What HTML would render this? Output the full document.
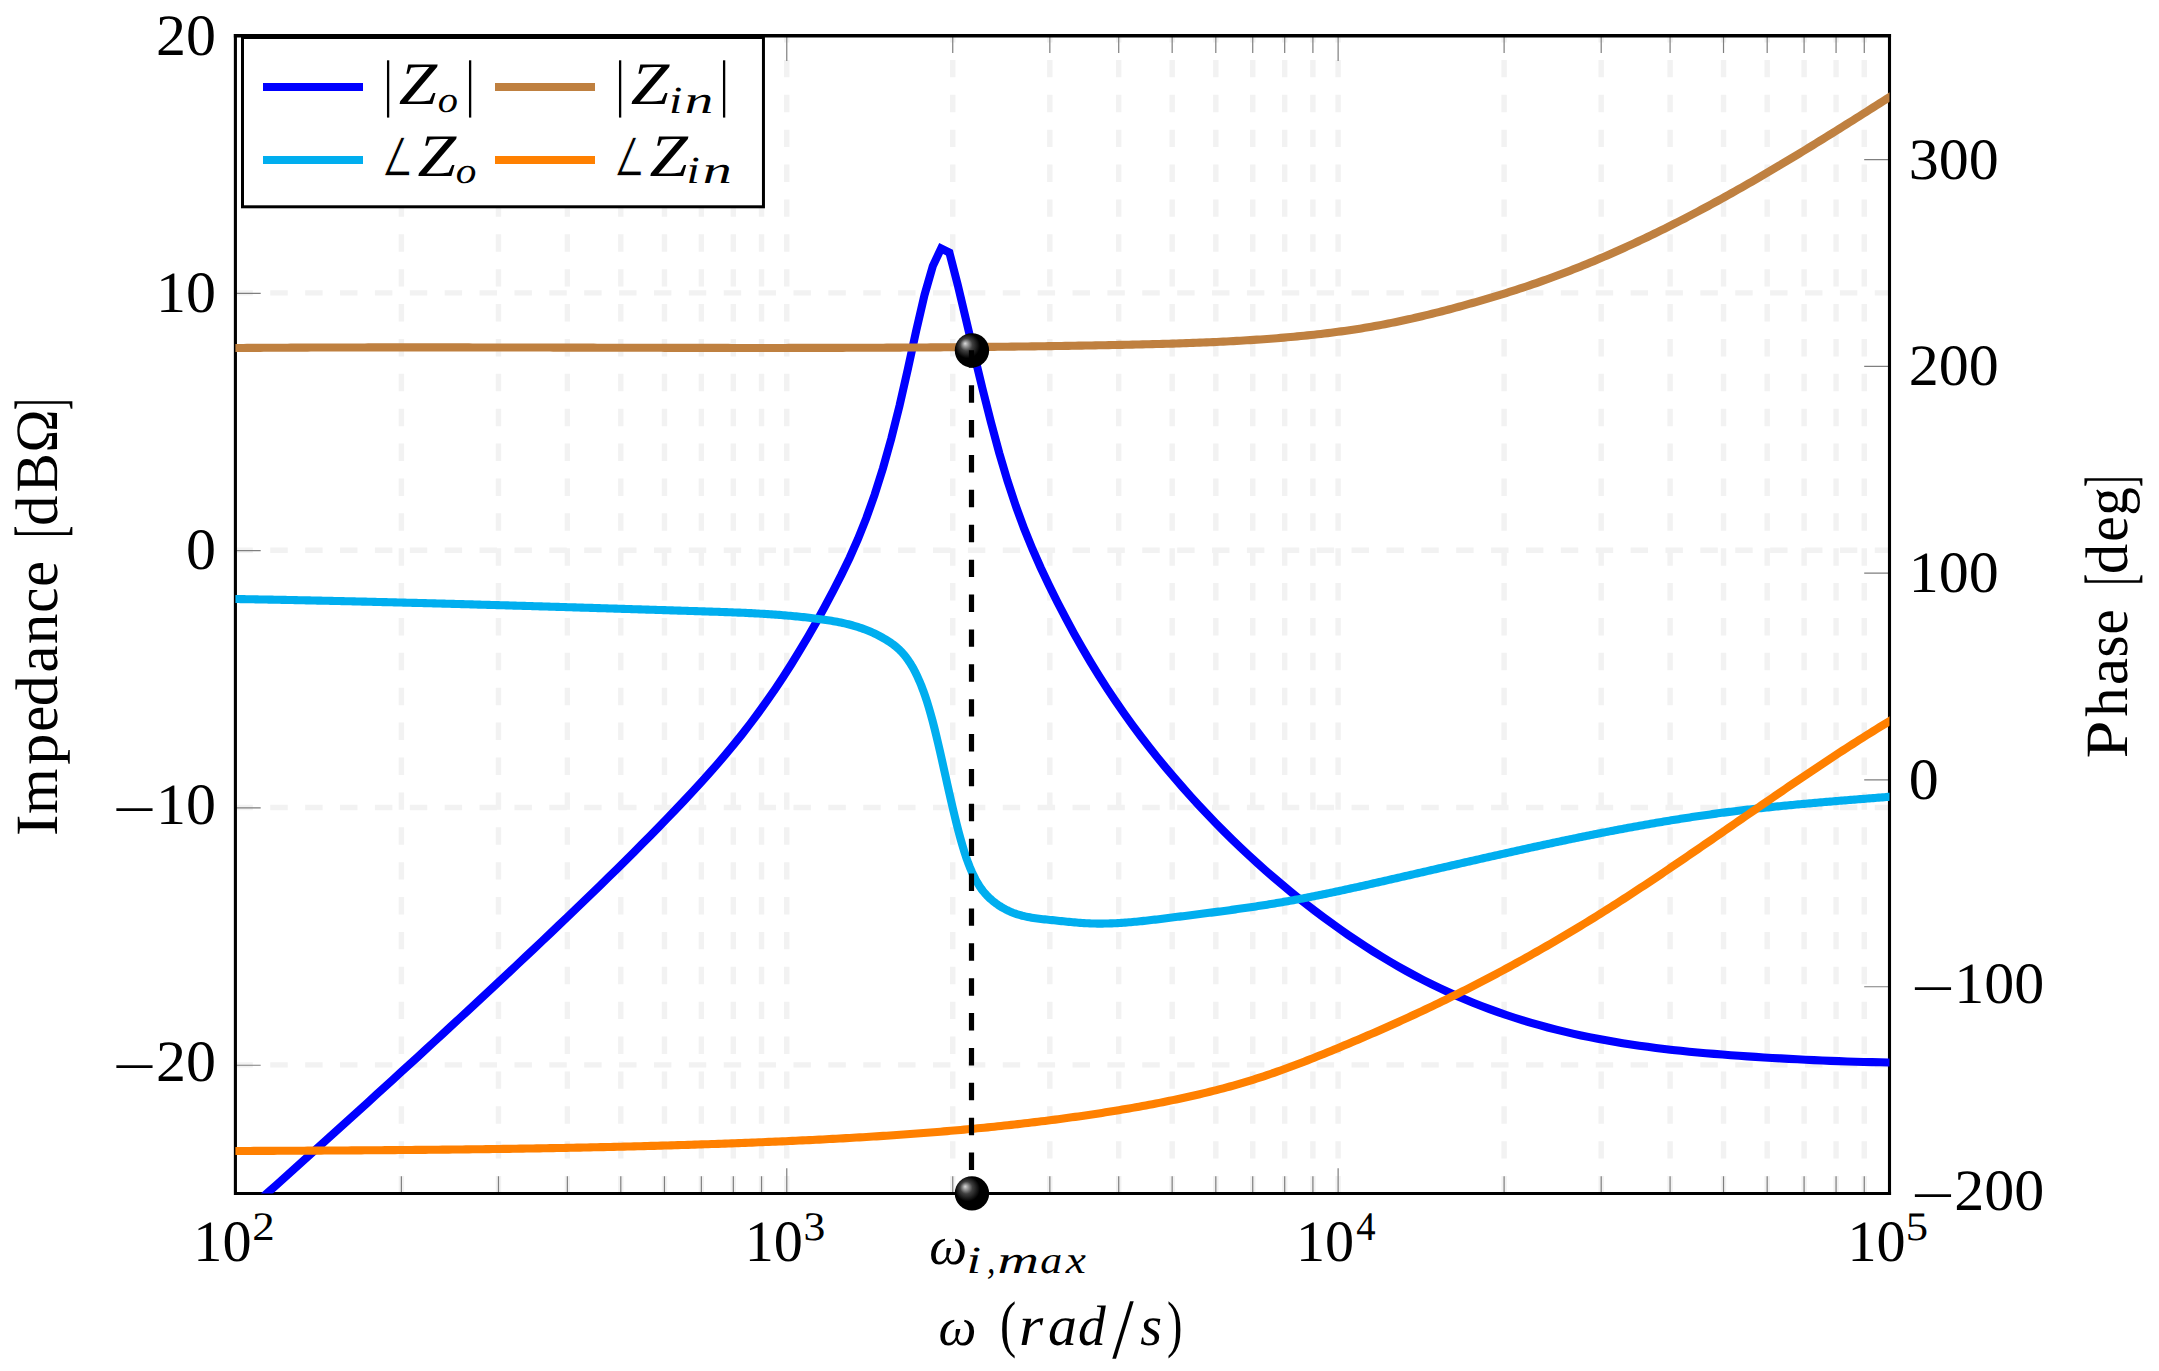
<!DOCTYPE html>
<html lang="en"><head><meta charset="utf-8"><title>Impedance and phase plot</title>
<style>html,body{margin:0;padding:0;background:#fff;overflow:hidden}svg{display:block}</style></head>
<body>
<svg width="2159" height="1371" viewBox="0 0 2159 1371" style="display:block;font-kerning:none;font-variant-ligatures:none" text-rendering="geometricPrecision">
<defs>
<clipPath id="cp"><rect x="235.4" y="35.6" width="1654.10" height="1157.90"/></clipPath>
<radialGradient id="ball" gradientUnits="objectBoundingBox" cx="0.5" cy="0.5" r="1.0" fx="0.3" fy="0.3"><stop offset="0" stop-color="#d9d9d9"/><stop offset="0.18" stop-color="#404040"/><stop offset="0.36" stop-color="#000"/><stop offset="1" stop-color="#000"/></radialGradient>
</defs>
<rect width="2159" height="1371" fill="#fff"/>
<path d="M401.38 1193.50V35.60M498.47 1193.50V35.60M567.36 1193.50V35.60M620.79 1193.50V35.60M664.45 1193.50V35.60M701.36 1193.50V35.60M733.33 1193.50V35.60M761.54 1193.50V35.60M786.77 1193.50V35.60M952.74 1193.50V35.60M1049.84 1193.50V35.60M1118.72 1193.50V35.60M1172.16 1193.50V35.60M1215.81 1193.50V35.60M1252.73 1193.50V35.60M1284.70 1193.50V35.60M1312.90 1193.50V35.60M1338.13 1193.50V35.60M1504.11 1193.50V35.60M1601.20 1193.50V35.60M1670.09 1193.50V35.60M1723.52 1193.50V35.60M1767.18 1193.50V35.60M1804.09 1193.50V35.60M1836.07 1193.50V35.60M1864.27 1193.50V35.60M235.40 292.91H1889.50M235.40 550.22H1889.50M235.40 807.53H1889.50M235.40 1064.84H1889.50" fill="none" stroke="#f2f2f2" stroke-width="5.4" stroke-dasharray="17.44 17.44"/>
<path d="M401.38 1193.50v-17.30M401.38 35.60v17.30M498.47 1193.50v-17.30M498.47 35.60v17.30M567.36 1193.50v-17.30M567.36 35.60v17.30M620.79 1193.50v-17.30M620.79 35.60v17.30M664.45 1193.50v-17.30M664.45 35.60v17.30M701.36 1193.50v-17.30M701.36 35.60v17.30M733.33 1193.50v-17.30M733.33 35.60v17.30M761.54 1193.50v-17.30M761.54 35.60v17.30M786.77 1193.50v-25.30M786.77 35.60v25.30M952.74 1193.50v-17.30M952.74 35.60v17.30M1049.84 1193.50v-17.30M1049.84 35.60v17.30M1118.72 1193.50v-17.30M1118.72 35.60v17.30M1172.16 1193.50v-17.30M1172.16 35.60v17.30M1215.81 1193.50v-17.30M1215.81 35.60v17.30M1252.73 1193.50v-17.30M1252.73 35.60v17.30M1284.70 1193.50v-17.30M1284.70 35.60v17.30M1312.90 1193.50v-17.30M1312.90 35.60v17.30M1338.13 1193.50v-25.30M1338.13 35.60v25.30M1504.11 1193.50v-17.30M1504.11 35.60v17.30M1601.20 1193.50v-17.30M1601.20 35.60v17.30M1670.09 1193.50v-17.30M1670.09 35.60v17.30M1723.52 1193.50v-17.30M1723.52 35.60v17.30M1767.18 1193.50v-17.30M1767.18 35.60v17.30M1804.09 1193.50v-17.30M1804.09 35.60v17.30M1836.07 1193.50v-17.30M1836.07 35.60v17.30M1864.27 1193.50v-17.30M1864.27 35.60v17.30M235.40 293.31h25.30M235.40 550.62h25.30M235.40 807.93h25.30M235.40 1065.24h25.30M1889.50 159.66h-25.30M1889.50 366.43h-25.30M1889.50 573.20h-25.30M1889.50 779.96h-25.30M1889.50 986.73h-25.30" fill="none" stroke="#7f7f7f" stroke-width="1.2"/>
<path d="M235.40 1195.05V34.05M233.85 1193.50H1891.05" fill="none" stroke="#000" stroke-width="3.1"/>
<path d="M233.85 35.75H1891.05" fill="none" stroke="#000" stroke-width="3.6"/>
<path d="M1889.50 1195.05V34.05" fill="none" stroke="#000" stroke-width="3.1"/>
<g clip-path="url(#cp)" fill="none" stroke-linejoin="miter" stroke-miterlimit="10">
<path d="M226.26 1229.92L234.57 1222.47L242.89 1215.01L251.20 1207.55L259.51 1200.08L267.82 1192.62L276.14 1185.15L284.45 1177.68L292.76 1170.20L301.07 1162.72L309.38 1155.23L317.70 1147.74L326.01 1140.24L334.32 1132.73L342.63 1125.22L350.94 1117.70L359.26 1110.17L367.57 1102.63L375.88 1095.08L384.19 1087.51L392.50 1079.94L400.82 1072.36L409.13 1064.76L417.44 1057.15L425.75 1049.53L434.06 1041.89L442.38 1034.24L450.69 1026.57L459.00 1018.89L467.31 1011.19L475.62 1003.48L483.94 995.75L492.25 988.00L500.56 980.23L508.87 972.44L517.18 964.63L525.50 956.80L533.81 948.96L542.12 941.09L550.43 933.19L558.75 925.28L567.06 917.34L575.37 909.38L583.68 901.39L591.99 893.37L600.31 885.30L608.62 877.20L616.93 869.04L625.24 860.83L633.55 852.55L641.87 844.22L650.18 835.81L658.49 827.33L666.80 818.76L675.11 810.11L683.43 801.37L691.74 792.51L700.05 783.49L708.36 774.29L716.67 764.86L724.99 755.16L733.30 745.17L741.61 734.84L749.92 724.14L758.23 713.03L766.55 701.47L774.86 689.45L783.17 676.96L791.48 663.97L799.79 650.47L808.11 636.46L816.42 621.91L824.73 606.81L833.04 591.14L841.36 574.88L849.67 557.68L857.98 538.96L866.29 518.17L874.60 494.78L882.92 468.41L891.23 438.74L899.54 405.65L907.85 369.07L916.16 330.81L924.48 295.05L932.79 266.14L941.10 248.43L949.40 252.62L957.71 284.85L966.02 319.60L974.34 354.96L982.65 389.41L990.96 422.28L999.27 453.03L1007.58 481.12L1015.90 506.27L1024.21 528.83L1032.52 549.26L1040.83 568.01L1049.14 585.54L1057.46 602.24L1065.77 618.24L1074.08 633.58L1082.39 648.27L1090.71 662.36L1099.02 675.87L1107.33 688.85L1115.64 701.32L1123.95 713.31L1132.27 724.87L1140.58 736.01L1148.89 746.78L1157.20 757.21L1165.51 767.33L1173.83 777.16L1182.14 786.75L1190.45 796.09L1198.76 805.20L1207.07 814.07L1215.39 822.71L1223.70 831.14L1232.01 839.35L1240.32 847.35L1248.63 855.16L1256.95 862.76L1265.26 870.18L1273.57 877.41L1281.88 884.46L1290.19 891.34L1298.51 898.05L1306.82 904.60L1315.13 911.00L1323.44 917.25L1331.75 923.34L1340.07 929.28L1348.38 935.06L1356.69 940.69L1365.00 946.16L1373.32 951.47L1381.63 956.62L1389.94 961.61L1398.25 966.45L1406.56 971.12L1414.88 975.62L1423.19 979.97L1431.50 984.15L1439.81 988.17L1448.12 992.04L1456.44 995.75L1464.75 999.32L1473.06 1002.73L1481.37 1006.01L1489.68 1009.15L1498.00 1012.15L1506.31 1015.01L1514.62 1017.75L1522.93 1020.36L1531.24 1022.85L1539.56 1025.22L1547.87 1027.48L1556.18 1029.62L1564.49 1031.65L1572.80 1033.59L1581.12 1035.42L1589.43 1037.15L1597.74 1038.79L1606.05 1040.34L1614.36 1041.80L1622.68 1043.18L1630.99 1044.48L1639.30 1045.70L1647.61 1046.86L1655.93 1047.94L1664.24 1048.96L1672.55 1049.92L1680.86 1050.82L1689.17 1051.66L1697.49 1052.46L1705.80 1053.20L1714.11 1053.91L1722.42 1054.57L1730.73 1055.20L1739.05 1055.80L1747.36 1056.36L1755.67 1056.90L1763.98 1057.42L1772.29 1057.92L1780.61 1058.40L1788.92 1058.87L1797.23 1059.31L1805.54 1059.73L1813.85 1060.13L1822.17 1060.50L1830.48 1060.84L1838.79 1061.16L1847.10 1061.45L1855.41 1061.71L1863.73 1061.94L1872.04 1062.14L1880.35 1062.30L1888.66 1062.43L1896.97 1062.52" stroke="#0000ff" stroke-width="8.1"/>
<path d="M220.00 348.13L223.37 348.10L226.73 348.07L230.10 348.05L233.47 348.02L236.83 347.99L240.20 347.97L243.57 347.94L246.93 347.92L250.30 347.90L253.67 347.87L257.03 347.85L260.40 347.83L263.77 347.81L267.13 347.79L270.50 347.77L273.87 347.75L277.23 347.73L280.60 347.71L283.97 347.69L287.33 347.68L290.70 347.66L294.07 347.65L297.43 347.63L300.80 347.62L304.17 347.60L307.54 347.59L310.90 347.57L314.27 347.56L317.64 347.55L321.00 347.54L324.37 347.53L327.74 347.52L331.10 347.51L334.47 347.50L337.84 347.49L341.20 347.48L344.57 347.47L347.94 347.46L351.30 347.45L354.67 347.45L358.04 347.44L361.40 347.43L364.77 347.43L368.14 347.42L371.50 347.42L374.87 347.41L378.24 347.41L381.60 347.40L384.97 347.40L388.34 347.40L391.70 347.40L395.07 347.39L398.44 347.39L401.80 347.39L405.17 347.39L408.54 347.39L411.90 347.39L415.27 347.39L418.64 347.39L422.00 347.39L425.37 347.39L428.74 347.39L432.10 347.39L435.47 347.39L438.84 347.39L442.20 347.40L445.57 347.40L448.94 347.40L452.30 347.40L455.67 347.41L459.04 347.41L462.40 347.41L465.77 347.42L469.14 347.42L472.51 347.43L475.87 347.43L479.24 347.43L482.61 347.44L485.97 347.44L489.34 347.45L492.71 347.46L496.07 347.46L499.44 347.47L502.81 347.47L506.17 347.48L509.54 347.49L512.91 347.49L516.27 347.50L519.64 347.50L523.01 347.51L526.37 347.52L529.74 347.53L533.11 347.53L536.47 347.54L539.84 347.55L543.21 347.55L546.57 347.56L549.94 347.57L553.31 347.58L556.67 347.59L560.04 347.59L563.41 347.60L566.77 347.61L570.14 347.62L573.51 347.62L576.87 347.63L580.24 347.64L583.61 347.65L586.97 347.66L590.34 347.67L593.71 347.67L597.07 347.68L600.44 347.69L603.81 347.70L607.17 347.71L610.54 347.71L613.91 347.72L617.27 347.73L620.64 347.74L624.01 347.74L627.37 347.75L630.74 347.76L634.11 347.77L637.47 347.77L640.84 347.78L644.21 347.79L647.58 347.80L650.94 347.80L654.31 347.81L657.68 347.82L661.04 347.82L664.41 347.83L667.78 347.84L671.14 347.84L674.51 347.85L677.88 347.86L681.24 347.86L684.61 347.87L687.98 347.87L691.34 347.88L694.71 347.88L698.08 347.89L701.44 347.89L704.81 347.90L708.18 347.90L711.54 347.91L714.91 347.91L718.28 347.91L721.64 347.92L725.01 347.92L728.38 347.92L731.74 347.93L735.11 347.93L738.48 347.93L741.84 347.93L745.21 347.93L748.58 347.93L751.94 347.94L755.31 347.94L758.68 347.94L762.04 347.94L765.41 347.94L768.78 347.94L772.14 347.93L775.51 347.93L778.88 347.93L782.24 347.93L785.61 347.93L788.98 347.92L792.34 347.92L795.71 347.92L799.08 347.91L802.44 347.91L805.81 347.91L809.18 347.90L812.55 347.90L815.91 347.89L819.28 347.88L822.65 347.88L826.01 347.87L829.38 347.86L832.75 347.85L836.11 347.85L839.48 347.84L842.85 347.83L846.21 347.82L849.58 347.81L852.95 347.80L856.31 347.79L859.68 347.77L863.05 347.76L866.41 347.75L869.78 347.74L873.15 347.72L876.51 347.71L879.88 347.69L883.25 347.68L886.61 347.66L889.98 347.65L893.35 347.63L896.71 347.61L900.08 347.59L903.45 347.57L906.81 347.56L910.18 347.54L913.55 347.52L916.91 347.49L920.28 347.47L923.65 347.45L927.01 347.43L930.38 347.40L933.75 347.38L937.11 347.36L940.48 347.33L943.85 347.30L947.21 347.28L950.58 347.25L953.95 347.22L957.31 347.19L960.68 347.17L964.05 347.14L967.41 347.10L970.78 347.07L974.15 347.04L977.52 347.01L980.88 346.98L984.25 346.94L987.62 346.91L990.98 346.87L994.35 346.83L997.72 346.80L1001.08 346.76L1004.45 346.72L1007.82 346.68L1011.18 346.64L1014.55 346.60L1017.92 346.56L1021.28 346.52L1024.65 346.47L1028.02 346.43L1031.38 346.38L1034.75 346.34L1038.12 346.29L1041.48 346.24L1044.85 346.20L1048.22 346.15L1051.58 346.10L1054.95 346.05L1058.32 345.99L1061.68 345.94L1065.05 345.89L1068.42 345.84L1071.78 345.78L1075.15 345.72L1078.52 345.67L1081.88 345.61L1085.25 345.55L1088.62 345.49L1091.98 345.43L1095.35 345.37L1098.72 345.31L1102.08 345.24L1105.45 345.18L1108.82 345.12L1112.18 345.05L1115.55 344.98L1118.92 344.91L1122.28 344.84L1125.65 344.77L1129.02 344.70L1132.38 344.63L1135.75 344.56L1139.12 344.48L1142.48 344.40L1145.85 344.32L1149.22 344.24L1152.59 344.16L1155.95 344.07L1159.32 343.98L1162.69 343.89L1166.05 343.79L1169.42 343.70L1172.79 343.60L1176.15 343.49L1179.52 343.39L1182.89 343.27L1186.25 343.16L1189.62 343.04L1192.99 342.92L1196.35 342.79L1199.72 342.66L1203.09 342.53L1206.45 342.39L1209.82 342.24L1213.19 342.10L1216.55 341.94L1219.92 341.78L1223.29 341.62L1226.65 341.45L1230.02 341.27L1233.39 341.09L1236.75 340.91L1240.12 340.72L1243.49 340.52L1246.85 340.31L1250.22 340.10L1253.59 339.88L1256.95 339.66L1260.32 339.43L1263.69 339.19L1267.05 338.95L1270.42 338.70L1273.79 338.44L1277.15 338.17L1280.52 337.90L1283.89 337.61L1287.25 337.32L1290.62 337.03L1293.99 336.72L1297.35 336.40L1300.72 336.08L1304.09 335.75L1307.45 335.40L1310.82 335.05L1314.19 334.69L1317.56 334.31L1320.92 333.93L1324.29 333.53L1327.66 333.13L1331.02 332.71L1334.39 332.28L1337.76 331.84L1341.12 331.38L1344.49 330.92L1347.86 330.44L1351.22 329.95L1354.59 329.44L1357.96 328.92L1361.32 328.38L1364.69 327.84L1368.06 327.27L1371.42 326.70L1374.79 326.10L1378.16 325.49L1381.52 324.87L1384.89 324.23L1388.26 323.57L1391.62 322.90L1394.99 322.22L1398.36 321.52L1401.72 320.80L1405.09 320.07L1408.46 319.33L1411.82 318.58L1415.19 317.81L1418.56 317.03L1421.92 316.23L1425.29 315.43L1428.66 314.61L1432.02 313.78L1435.39 312.94L1438.76 312.08L1442.12 311.22L1445.49 310.35L1448.86 309.46L1452.22 308.57L1455.59 307.66L1458.96 306.75L1462.32 305.83L1465.69 304.90L1469.06 303.96L1472.42 303.01L1475.79 302.05L1479.16 301.09L1482.53 300.11L1485.89 299.13L1489.26 298.13L1492.63 297.13L1495.99 296.12L1499.36 295.09L1502.73 294.06L1506.09 293.01L1509.46 291.95L1512.83 290.88L1516.19 289.80L1519.56 288.71L1522.93 287.60L1526.29 286.48L1529.66 285.35L1533.03 284.21L1536.39 283.05L1539.76 281.88L1543.13 280.69L1546.49 279.49L1549.86 278.27L1553.23 277.04L1556.59 275.80L1559.96 274.54L1563.33 273.26L1566.69 271.97L1570.06 270.67L1573.43 269.35L1576.79 268.02L1580.16 266.68L1583.53 265.32L1586.89 263.94L1590.26 262.56L1593.63 261.16L1596.99 259.74L1600.36 258.32L1603.73 256.88L1607.09 255.42L1610.46 253.96L1613.83 252.48L1617.19 250.98L1620.56 249.48L1623.93 247.96L1627.29 246.43L1630.66 244.88L1634.03 243.33L1637.39 241.76L1640.76 240.18L1644.13 238.58L1647.49 236.98L1650.86 235.36L1654.23 233.73L1657.60 232.09L1660.96 230.43L1664.33 228.77L1667.70 227.09L1671.06 225.40L1674.43 223.70L1677.80 221.99L1681.16 220.26L1684.53 218.53L1687.90 216.78L1691.26 215.03L1694.63 213.26L1698.00 211.48L1701.36 209.69L1704.73 207.89L1708.10 206.08L1711.46 204.26L1714.83 202.43L1718.20 200.59L1721.56 198.74L1724.93 196.88L1728.30 195.01L1731.66 193.12L1735.03 191.23L1738.40 189.33L1741.76 187.42L1745.13 185.50L1748.50 183.57L1751.86 181.64L1755.23 179.69L1758.60 177.74L1761.96 175.77L1765.33 173.80L1768.70 171.83L1772.06 169.84L1775.43 167.85L1778.80 165.84L1782.16 163.84L1785.53 161.82L1788.90 159.80L1792.26 157.77L1795.63 155.73L1799.00 153.69L1802.36 151.64L1805.73 149.59L1809.10 147.53L1812.46 145.47L1815.83 143.40L1819.20 141.32L1822.57 139.24L1825.93 137.15L1829.30 135.06L1832.67 132.97L1836.03 130.87L1839.40 128.76L1842.77 126.65L1846.13 124.54L1849.50 122.43L1852.87 120.31L1856.23 118.18L1859.60 116.06L1862.97 113.93L1866.33 111.80L1869.70 109.66L1873.07 107.53L1876.43 105.39L1879.80 103.24L1883.17 101.10L1886.53 98.96L1889.90 96.81L1893.27 94.66L1896.63 92.51L1900.00 90.36" stroke="#bf8040" stroke-width="8.1"/>
</g>
<g clip-path="url(#cp)" fill="none" stroke-linejoin="round">
<path d="M220.00 598.76L221.87 598.79L223.74 598.82L225.61 598.85L227.48 598.88L229.35 598.91L231.22 598.94L233.09 598.97L234.96 599.00L236.83 599.03L238.70 599.06L240.57 599.10L242.44 599.13L244.31 599.16L246.18 599.19L248.05 599.23L249.92 599.26L251.79 599.29L253.66 599.32L255.53 599.36L257.40 599.39L259.27 599.43L261.14 599.46L263.01 599.49L264.88 599.53L266.75 599.56L268.62 599.60L270.49 599.63L272.36 599.67L274.23 599.71L276.10 599.74L277.97 599.78L279.84 599.81L281.71 599.85L283.58 599.89L285.45 599.92L287.32 599.96L289.19 600.00L291.06 600.03L292.93 600.07L294.80 600.11L296.67 600.15L298.54 600.19L300.41 600.22L302.28 600.26L304.15 600.30L306.02 600.34L307.89 600.38L309.76 600.42L311.63 600.46L313.50 600.50L315.37 600.54L317.24 600.58L319.11 600.62L320.98 600.66L322.85 600.70L324.72 600.74L326.59 600.78L328.46 600.82L330.33 600.86L332.20 600.90L334.07 600.94L335.94 600.98L337.81 601.03L339.68 601.07L341.56 601.11L343.43 601.15L345.30 601.19L347.17 601.24L349.04 601.28L350.91 601.32L352.78 601.37L354.65 601.41L356.52 601.45L358.39 601.50L360.26 601.54L362.13 601.58L364.00 601.63L365.87 601.67L367.74 601.72L369.61 601.76L371.48 601.81L373.35 601.85L375.22 601.90L377.09 601.94L378.96 601.99L380.83 602.03L382.70 602.08L384.57 602.12L386.44 602.17L388.31 602.21L390.18 602.26L392.05 602.31L393.92 602.35L395.79 602.40L397.66 602.45L399.53 602.49L401.40 602.54L403.27 602.59L405.14 602.63L407.01 602.68L408.88 602.73L410.75 602.78L412.62 602.83L414.49 602.87L416.36 602.92L418.23 602.97L420.10 603.02L421.97 603.07L423.84 603.11L425.71 603.16L427.58 603.21L429.45 603.26L431.32 603.31L433.19 603.36L435.06 603.41L436.93 603.46L438.80 603.51L440.67 603.56L442.54 603.61L444.41 603.66L446.28 603.71L448.15 603.76L450.02 603.81L451.89 603.86L453.76 603.91L455.63 603.96L457.50 604.01L459.37 604.06L461.24 604.11L463.11 604.16L464.98 604.22L466.85 604.27L468.72 604.32L470.59 604.37L472.46 604.42L474.33 604.47L476.20 604.53L478.07 604.58L479.94 604.63L481.81 604.68L483.68 604.73L485.55 604.79L487.42 604.84L489.29 604.89L491.16 604.94L493.03 605.00L494.90 605.05L496.77 605.10L498.64 605.16L500.51 605.21L502.38 605.26L504.25 605.32L506.12 605.37L507.99 605.42L509.86 605.48L511.73 605.53L513.60 605.59L515.47 605.64L517.34 605.69L519.21 605.75L521.08 605.80L522.95 605.86L524.82 605.91L526.69 605.96L528.56 606.02L530.43 606.07L532.30 606.13L534.17 606.18L536.04 606.24L537.91 606.29L539.78 606.35L541.65 606.40L543.52 606.46L545.39 606.51L547.26 606.57L549.13 606.63L551.00 606.68L552.87 606.74L554.74 606.79L556.61 606.85L558.48 606.90L560.35 606.96L562.22 607.02L564.09 607.07L565.96 607.13L567.83 607.18L569.70 607.24L571.57 607.30L573.44 607.35L575.31 607.41L577.18 607.47L579.05 607.52L580.93 607.58L582.80 607.63L584.67 607.69L586.54 607.75L588.41 607.81L590.28 607.86L592.15 607.92L594.02 607.98L595.89 608.03L597.76 608.09L599.63 608.15L601.50 608.20L603.37 608.26L605.24 608.32L607.11 608.38L608.98 608.43L610.85 608.49L612.72 608.55L614.59 608.61L616.46 608.66L618.33 608.72L620.20 608.78L622.07 608.84L623.94 608.89L625.81 608.95L627.68 609.01L629.55 609.07L631.42 609.13L633.29 609.18L635.16 609.24L637.03 609.30L638.90 609.36L640.77 609.42L642.64 609.47L644.51 609.53L646.38 609.59L648.25 609.65L650.12 609.71L651.99 609.76L653.86 609.82L655.73 609.88L657.60 609.94L659.47 610.00L661.34 610.06L663.21 610.11L665.08 610.17L666.95 610.23L668.82 610.29L670.69 610.35L672.56 610.41L674.43 610.47L676.30 610.52L678.17 610.58L680.04 610.64L681.91 610.70L683.78 610.76L685.65 610.82L687.52 610.88L689.39 610.93L691.26 610.99L693.13 611.05L695.00 611.11L696.87 611.17L698.74 611.23L700.61 611.29L702.48 611.35L704.35 611.40L706.22 611.46L708.09 611.52L709.96 611.58L711.83 611.64L713.70 611.70L715.57 611.76L717.44 611.82L719.31 611.89L721.18 611.95L723.05 612.02L724.92 612.08L726.79 612.15L728.66 612.22L730.53 612.29L732.40 612.36L734.27 612.43L736.14 612.51L738.01 612.58L739.88 612.66L741.75 612.74L743.62 612.82L745.49 612.91L747.36 612.99L749.23 613.08L751.10 613.17L752.97 613.27L754.84 613.36L756.71 613.46L758.58 613.57L760.45 613.67L762.32 613.78L764.19 613.89L766.06 614.01L767.93 614.12L769.80 614.25L771.67 614.37L773.54 614.50L775.41 614.63L777.28 614.77L779.15 614.91L781.02 615.05L782.89 615.20L784.76 615.35L786.63 615.51L788.50 615.67L790.37 615.83L792.24 616.00L794.11 616.18L795.98 616.36L797.85 616.54L799.72 616.73L801.59 616.93L803.46 617.13L805.33 617.33L807.20 617.54L809.07 617.76L810.94 617.98L812.81 618.20L814.68 618.44L816.55 618.67L818.42 618.92L820.29 619.17L822.17 619.42L824.04 619.69L825.91 619.96L827.78 620.24L829.65 620.53L831.52 620.84L833.39 621.16L835.26 621.49L837.13 621.83L839.00 622.19L840.87 622.57L842.74 622.97L844.61 623.38L846.48 623.82L848.35 624.28L850.22 624.76L852.09 625.26L853.96 625.79L855.83 626.34L857.70 626.92L859.57 627.53L861.44 628.17L863.31 628.83L865.18 629.53L867.05 630.26L868.92 631.02L870.79 631.82L872.66 632.66L874.53 633.52L876.40 634.43L878.27 635.38L880.14 636.36L882.01 637.39L883.88 638.46L885.75 639.57L887.62 640.72L889.49 641.92L891.36 643.19L893.23 644.54L895.10 645.98L896.97 647.53L898.84 649.21L900.71 651.04L902.58 653.03L904.45 655.20L906.32 657.57L908.19 660.15L910.06 662.96L911.93 666.02L913.80 669.33L915.67 672.93L917.54 676.82L919.41 681.03L921.28 685.56L923.15 690.44L925.02 695.69L926.89 701.31L928.76 707.33L930.63 713.76L932.50 720.62L934.37 727.87L936.24 735.47L938.11 743.34L939.98 751.43L941.85 759.68L943.72 768.04L945.59 776.44L947.46 784.83L949.33 793.14L951.20 801.32L953.07 809.34L954.94 817.14L956.81 824.69L958.68 831.96L960.55 838.88L962.42 845.44L964.29 851.58L966.16 857.27L968.03 862.50L969.90 867.30L971.77 871.70L973.64 875.71L975.51 879.38L977.38 882.71L979.25 885.74L981.12 888.49L982.99 890.98L984.86 893.25L986.73 895.31L988.60 897.20L990.47 898.93L992.34 900.54L994.21 902.04L996.08 903.45L997.95 904.78L999.82 906.03L1001.69 907.20L1003.56 908.29L1005.43 909.31L1007.30 910.26L1009.17 911.15L1011.04 911.97L1012.91 912.73L1014.78 913.43L1016.65 914.08L1018.52 914.68L1020.39 915.22L1022.26 915.73L1024.13 916.19L1026.00 916.61L1027.87 917.00L1029.74 917.35L1031.61 917.68L1033.48 917.97L1035.35 918.25L1037.22 918.50L1039.09 918.73L1040.96 918.95L1042.83 919.16L1044.70 919.36L1046.57 919.56L1048.44 919.75L1050.31 919.94L1052.18 920.14L1054.05 920.34L1055.92 920.53L1057.79 920.73L1059.66 920.93L1061.54 921.13L1063.41 921.32L1065.28 921.52L1067.15 921.70L1069.02 921.89L1070.89 922.07L1072.76 922.24L1074.63 922.40L1076.50 922.56L1078.37 922.71L1080.24 922.85L1082.11 922.98L1083.98 923.10L1085.85 923.21L1087.72 923.31L1089.59 923.39L1091.46 923.46L1093.33 923.51L1095.20 923.55L1097.07 923.58L1098.94 923.59L1100.81 923.59L1102.68 923.58L1104.55 923.56L1106.42 923.53L1108.29 923.48L1110.16 923.42L1112.03 923.36L1113.90 923.28L1115.77 923.19L1117.64 923.10L1119.51 922.99L1121.38 922.87L1123.25 922.75L1125.12 922.62L1126.99 922.48L1128.86 922.33L1130.73 922.17L1132.60 922.01L1134.47 921.84L1136.34 921.66L1138.21 921.48L1140.08 921.29L1141.95 921.10L1143.82 920.90L1145.69 920.70L1147.56 920.49L1149.43 920.28L1151.30 920.07L1153.17 919.85L1155.04 919.63L1156.91 919.41L1158.78 919.18L1160.65 918.95L1162.52 918.72L1164.39 918.49L1166.26 918.26L1168.13 918.02L1170.00 917.79L1171.87 917.55L1173.74 917.32L1175.61 917.09L1177.48 916.85L1179.35 916.62L1181.22 916.39L1183.09 916.15L1184.96 915.92L1186.83 915.69L1188.70 915.45L1190.57 915.22L1192.44 914.98L1194.31 914.75L1196.18 914.51L1198.05 914.28L1199.92 914.04L1201.79 913.81L1203.66 913.57L1205.53 913.33L1207.40 913.09L1209.27 912.85L1211.14 912.61L1213.01 912.37L1214.88 912.13L1216.75 911.88L1218.62 911.64L1220.49 911.39L1222.36 911.14L1224.23 910.89L1226.10 910.64L1227.97 910.39L1229.84 910.14L1231.71 909.88L1233.58 909.63L1235.45 909.37L1237.32 909.11L1239.19 908.85L1241.06 908.58L1242.93 908.32L1244.80 908.05L1246.67 907.78L1248.54 907.50L1250.41 907.23L1252.28 906.95L1254.15 906.67L1256.02 906.39L1257.89 906.11L1259.76 905.82L1261.63 905.53L1263.50 905.24L1265.37 904.95L1267.24 904.65L1269.11 904.35L1270.98 904.05L1272.85 903.74L1274.72 903.43L1276.59 903.12L1278.46 902.81L1280.33 902.49L1282.20 902.17L1284.07 901.84L1285.94 901.51L1287.81 901.18L1289.68 900.85L1291.55 900.51L1293.42 900.17L1295.29 899.82L1297.16 899.47L1299.03 899.12L1300.91 898.77L1302.78 898.41L1304.65 898.05L1306.52 897.69L1308.39 897.33L1310.26 896.96L1312.13 896.59L1314.00 896.22L1315.87 895.84L1317.74 895.47L1319.61 895.09L1321.48 894.70L1323.35 894.32L1325.22 893.93L1327.09 893.54L1328.96 893.15L1330.83 892.76L1332.70 892.37L1334.57 891.97L1336.44 891.57L1338.31 891.17L1340.18 890.77L1342.05 890.37L1343.92 889.96L1345.79 889.55L1347.66 889.15L1349.53 888.74L1351.40 888.33L1353.27 887.91L1355.14 887.50L1357.01 887.08L1358.88 886.67L1360.75 886.25L1362.62 885.83L1364.49 885.42L1366.36 885.00L1368.23 884.58L1370.10 884.15L1371.97 883.73L1373.84 883.31L1375.71 882.89L1377.58 882.46L1379.45 882.04L1381.32 881.61L1383.19 881.19L1385.06 880.76L1386.93 880.34L1388.80 879.91L1390.67 879.48L1392.54 879.06L1394.41 878.63L1396.28 878.20L1398.15 877.77L1400.02 877.35L1401.89 876.92L1403.76 876.49L1405.63 876.06L1407.50 875.63L1409.37 875.20L1411.24 874.77L1413.11 874.34L1414.98 873.91L1416.85 873.48L1418.72 873.05L1420.59 872.63L1422.46 872.20L1424.33 871.77L1426.20 871.34L1428.07 870.90L1429.94 870.47L1431.81 870.04L1433.68 869.61L1435.55 869.18L1437.42 868.75L1439.29 868.32L1441.16 867.89L1443.03 867.46L1444.90 867.04L1446.77 866.61L1448.64 866.18L1450.51 865.75L1452.38 865.32L1454.25 864.89L1456.12 864.46L1457.99 864.03L1459.86 863.60L1461.73 863.17L1463.60 862.75L1465.47 862.32L1467.34 861.89L1469.21 861.47L1471.08 861.04L1472.95 860.61L1474.82 860.19L1476.69 859.76L1478.56 859.34L1480.43 858.91L1482.30 858.49L1484.17 858.06L1486.04 857.64L1487.91 857.21L1489.78 856.79L1491.65 856.37L1493.52 855.95L1495.39 855.53L1497.26 855.11L1499.13 854.69L1501.00 854.27L1502.87 853.85L1504.74 853.43L1506.61 853.01L1508.48 852.59L1510.35 852.18L1512.22 851.76L1514.09 851.35L1515.96 850.93L1517.83 850.52L1519.70 850.10L1521.57 849.69L1523.44 849.28L1525.31 848.87L1527.18 848.46L1529.05 848.05L1530.92 847.64L1532.79 847.23L1534.66 846.82L1536.53 846.42L1538.40 846.01L1540.27 845.61L1542.15 845.20L1544.02 844.80L1545.89 844.40L1547.76 844.00L1549.63 843.60L1551.50 843.20L1553.37 842.80L1555.24 842.41L1557.11 842.01L1558.98 841.61L1560.85 841.22L1562.72 840.83L1564.59 840.44L1566.46 840.05L1568.33 839.66L1570.20 839.27L1572.07 838.88L1573.94 838.49L1575.81 838.11L1577.68 837.72L1579.55 837.34L1581.42 836.96L1583.29 836.58L1585.16 836.20L1587.03 835.82L1588.90 835.45L1590.77 835.07L1592.64 834.70L1594.51 834.32L1596.38 833.95L1598.25 833.58L1600.12 833.21L1601.99 832.85L1603.86 832.48L1605.73 832.12L1607.60 831.75L1609.47 831.39L1611.34 831.03L1613.21 830.67L1615.08 830.31L1616.95 829.96L1618.82 829.60L1620.69 829.25L1622.56 828.90L1624.43 828.55L1626.30 828.20L1628.17 827.85L1630.04 827.51L1631.91 827.17L1633.78 826.82L1635.65 826.48L1637.52 826.15L1639.39 825.81L1641.26 825.47L1643.13 825.14L1645.00 824.81L1646.87 824.48L1648.74 824.15L1650.61 823.82L1652.48 823.50L1654.35 823.18L1656.22 822.85L1658.09 822.53L1659.96 822.22L1661.83 821.90L1663.70 821.59L1665.57 821.28L1667.44 820.97L1669.31 820.66L1671.18 820.35L1673.05 820.05L1674.92 819.74L1676.79 819.44L1678.66 819.15L1680.53 818.85L1682.40 818.56L1684.27 818.26L1686.14 817.97L1688.01 817.68L1689.88 817.40L1691.75 817.11L1693.62 816.83L1695.49 816.55L1697.36 816.27L1699.23 816.00L1701.10 815.73L1702.97 815.45L1704.84 815.18L1706.71 814.92L1708.58 814.65L1710.45 814.39L1712.32 814.13L1714.19 813.87L1716.06 813.62L1717.93 813.36L1719.80 813.11L1721.67 812.86L1723.54 812.62L1725.41 812.37L1727.28 812.13L1729.15 811.89L1731.02 811.66L1732.89 811.42L1734.76 811.19L1736.63 810.96L1738.50 810.73L1740.37 810.50L1742.24 810.28L1744.11 810.06L1745.98 809.84L1747.85 809.62L1749.72 809.40L1751.59 809.19L1753.46 808.98L1755.33 808.77L1757.20 808.56L1759.07 808.35L1760.94 808.15L1762.81 807.95L1764.68 807.75L1766.55 807.55L1768.42 807.35L1770.29 807.15L1772.16 806.96L1774.03 806.77L1775.90 806.57L1777.77 806.38L1779.64 806.20L1781.52 806.01L1783.39 805.83L1785.26 805.64L1787.13 805.46L1789.00 805.28L1790.87 805.10L1792.74 804.92L1794.61 804.74L1796.48 804.57L1798.35 804.39L1800.22 804.22L1802.09 804.05L1803.96 803.88L1805.83 803.71L1807.70 803.54L1809.57 803.37L1811.44 803.20L1813.31 803.04L1815.18 802.87L1817.05 802.71L1818.92 802.55L1820.79 802.39L1822.66 802.22L1824.53 802.06L1826.40 801.91L1828.27 801.75L1830.14 801.59L1832.01 801.43L1833.88 801.27L1835.75 801.12L1837.62 800.96L1839.49 800.81L1841.36 800.66L1843.23 800.50L1845.10 800.35L1846.97 800.20L1848.84 800.04L1850.71 799.89L1852.58 799.74L1854.45 799.59L1856.32 799.44L1858.19 799.29L1860.06 799.14L1861.93 798.99L1863.80 798.84L1865.67 798.69L1867.54 798.54L1869.41 798.39L1871.28 798.24L1873.15 798.10L1875.02 797.95L1876.89 797.80L1878.76 797.65L1880.63 797.50L1882.50 797.35L1884.37 797.20L1886.24 797.05L1888.11 796.91L1889.98 796.76L1891.85 796.61L1893.72 796.46L1895.59 796.31L1897.46 796.16L1899.33 796.01L1901.20 795.85" stroke="#00aeef" stroke-width="8.1"/>
<path d="M220.00 1151.07L223.37 1151.05L226.73 1151.04L230.10 1151.02L233.47 1151.01L236.83 1151.00L240.20 1150.98L243.57 1150.97L246.93 1150.95L250.30 1150.94L253.67 1150.92L257.03 1150.91L260.40 1150.89L263.77 1150.88L267.13 1150.86L270.50 1150.84L273.87 1150.83L277.23 1150.81L280.60 1150.80L283.97 1150.78L287.33 1150.76L290.70 1150.75L294.07 1150.73L297.43 1150.71L300.80 1150.70L304.17 1150.68L307.54 1150.66L310.90 1150.64L314.27 1150.63L317.64 1150.61L321.00 1150.59L324.37 1150.57L327.74 1150.55L331.10 1150.53L334.47 1150.51L337.84 1150.49L341.20 1150.47L344.57 1150.45L347.94 1150.43L351.30 1150.41L354.67 1150.39L358.04 1150.36L361.40 1150.34L364.77 1150.32L368.14 1150.30L371.50 1150.27L374.87 1150.25L378.24 1150.22L381.60 1150.20L384.97 1150.17L388.34 1150.15L391.70 1150.12L395.07 1150.09L398.44 1150.07L401.80 1150.04L405.17 1150.01L408.54 1149.98L411.90 1149.95L415.27 1149.92L418.64 1149.89L422.00 1149.86L425.37 1149.83L428.74 1149.80L432.10 1149.76L435.47 1149.73L438.84 1149.70L442.20 1149.66L445.57 1149.63L448.94 1149.59L452.30 1149.55L455.67 1149.52L459.04 1149.48L462.40 1149.44L465.77 1149.40L469.14 1149.36L472.51 1149.32L475.87 1149.28L479.24 1149.24L482.61 1149.19L485.97 1149.15L489.34 1149.11L492.71 1149.06L496.07 1149.02L499.44 1148.97L502.81 1148.92L506.17 1148.87L509.54 1148.83L512.91 1148.78L516.27 1148.73L519.64 1148.67L523.01 1148.62L526.37 1148.57L529.74 1148.52L533.11 1148.46L536.47 1148.41L539.84 1148.35L543.21 1148.29L546.57 1148.23L549.94 1148.17L553.31 1148.11L556.67 1148.05L560.04 1147.99L563.41 1147.93L566.77 1147.86L570.14 1147.80L573.51 1147.73L576.87 1147.67L580.24 1147.60L583.61 1147.53L586.97 1147.46L590.34 1147.39L593.71 1147.32L597.07 1147.24L600.44 1147.17L603.81 1147.09L607.17 1147.02L610.54 1146.94L613.91 1146.86L617.27 1146.78L620.64 1146.70L624.01 1146.62L627.37 1146.54L630.74 1146.45L634.11 1146.37L637.47 1146.28L640.84 1146.19L644.21 1146.10L647.58 1146.01L650.94 1145.92L654.31 1145.83L657.68 1145.74L661.04 1145.64L664.41 1145.55L667.78 1145.45L671.14 1145.35L674.51 1145.25L677.88 1145.15L681.24 1145.05L684.61 1144.94L687.98 1144.84L691.34 1144.73L694.71 1144.62L698.08 1144.52L701.44 1144.41L704.81 1144.29L708.18 1144.18L711.54 1144.07L714.91 1143.95L718.28 1143.83L721.64 1143.71L725.01 1143.59L728.38 1143.47L731.74 1143.35L735.11 1143.23L738.48 1143.10L741.84 1142.97L745.21 1142.84L748.58 1142.71L751.94 1142.58L755.31 1142.45L758.68 1142.31L762.04 1142.18L765.41 1142.04L768.78 1141.90L772.14 1141.76L775.51 1141.62L778.88 1141.47L782.24 1141.33L785.61 1141.18L788.98 1141.03L792.34 1140.88L795.71 1140.72L799.08 1140.57L802.44 1140.41L805.81 1140.25L809.18 1140.09L812.55 1139.93L815.91 1139.76L819.28 1139.59L822.65 1139.42L826.01 1139.25L829.38 1139.07L832.75 1138.89L836.11 1138.71L839.48 1138.53L842.85 1138.35L846.21 1138.16L849.58 1137.97L852.95 1137.78L856.31 1137.58L859.68 1137.38L863.05 1137.18L866.41 1136.98L869.78 1136.77L873.15 1136.56L876.51 1136.34L879.88 1136.13L883.25 1135.91L886.61 1135.69L889.98 1135.46L893.35 1135.23L896.71 1135.00L900.08 1134.77L903.45 1134.53L906.81 1134.28L910.18 1134.04L913.55 1133.79L916.91 1133.54L920.28 1133.28L923.65 1133.02L927.01 1132.76L930.38 1132.49L933.75 1132.22L937.11 1131.95L940.48 1131.67L943.85 1131.39L947.21 1131.10L950.58 1130.81L953.95 1130.52L957.31 1130.22L960.68 1129.92L964.05 1129.61L967.41 1129.30L970.78 1128.98L974.15 1128.67L977.52 1128.34L980.88 1128.01L984.25 1127.68L987.62 1127.35L990.98 1127.00L994.35 1126.66L997.72 1126.31L1001.08 1125.95L1004.45 1125.59L1007.82 1125.23L1011.18 1124.86L1014.55 1124.49L1017.92 1124.11L1021.28 1123.73L1024.65 1123.34L1028.02 1122.94L1031.38 1122.54L1034.75 1122.14L1038.12 1121.73L1041.48 1121.32L1044.85 1120.90L1048.22 1120.48L1051.58 1120.05L1054.95 1119.61L1058.32 1119.17L1061.68 1118.73L1065.05 1118.27L1068.42 1117.82L1071.78 1117.35L1075.15 1116.88L1078.52 1116.41L1081.88 1115.93L1085.25 1115.44L1088.62 1114.94L1091.98 1114.44L1095.35 1113.93L1098.72 1113.42L1102.08 1112.90L1105.45 1112.37L1108.82 1111.83L1112.18 1111.29L1115.55 1110.74L1118.92 1110.18L1122.28 1109.61L1125.65 1109.04L1129.02 1108.46L1132.38 1107.87L1135.75 1107.27L1139.12 1106.67L1142.48 1106.05L1145.85 1105.43L1149.22 1104.80L1152.59 1104.16L1155.95 1103.51L1159.32 1102.85L1162.69 1102.19L1166.05 1101.51L1169.42 1100.83L1172.79 1100.13L1176.15 1099.43L1179.52 1098.71L1182.89 1097.99L1186.25 1097.25L1189.62 1096.51L1192.99 1095.75L1196.35 1094.98L1199.72 1094.20L1203.09 1093.40L1206.45 1092.59L1209.82 1091.77L1213.19 1090.93L1216.55 1090.07L1219.92 1089.20L1223.29 1088.32L1226.65 1087.42L1230.02 1086.50L1233.39 1085.56L1236.75 1084.61L1240.12 1083.63L1243.49 1082.64L1246.85 1081.63L1250.22 1080.60L1253.59 1079.55L1256.95 1078.48L1260.32 1077.39L1263.69 1076.28L1267.05 1075.15L1270.42 1074.00L1273.79 1072.84L1277.15 1071.66L1280.52 1070.46L1283.89 1069.25L1287.25 1068.02L1290.62 1066.77L1293.99 1065.52L1297.35 1064.25L1300.72 1062.96L1304.09 1061.66L1307.45 1060.36L1310.82 1059.04L1314.19 1057.70L1317.56 1056.36L1320.92 1055.01L1324.29 1053.65L1327.66 1052.29L1331.02 1050.91L1334.39 1049.53L1337.76 1048.14L1341.12 1046.74L1344.49 1045.34L1347.86 1043.93L1351.22 1042.51L1354.59 1041.09L1357.96 1039.66L1361.32 1038.23L1364.69 1036.79L1368.06 1035.34L1371.42 1033.88L1374.79 1032.42L1378.16 1030.94L1381.52 1029.47L1384.89 1027.98L1388.26 1026.49L1391.62 1024.98L1394.99 1023.47L1398.36 1021.96L1401.72 1020.43L1405.09 1018.90L1408.46 1017.35L1411.82 1015.80L1415.19 1014.24L1418.56 1012.67L1421.92 1011.09L1425.29 1009.51L1428.66 1007.91L1432.02 1006.31L1435.39 1004.69L1438.76 1003.07L1442.12 1001.44L1445.49 999.80L1448.86 998.15L1452.22 996.49L1455.59 994.82L1458.96 993.14L1462.32 991.45L1465.69 989.76L1469.06 988.05L1472.42 986.34L1475.79 984.61L1479.16 982.88L1482.53 981.13L1485.89 979.38L1489.26 977.61L1492.63 975.84L1495.99 974.06L1499.36 972.27L1502.73 970.46L1506.09 968.65L1509.46 966.83L1512.83 965.00L1516.19 963.15L1519.56 961.30L1522.93 959.44L1526.29 957.57L1529.66 955.68L1533.03 953.79L1536.39 951.89L1539.76 949.98L1543.13 948.05L1546.49 946.12L1549.86 944.18L1553.23 942.22L1556.59 940.26L1559.96 938.28L1563.33 936.30L1566.69 934.30L1570.06 932.29L1573.43 930.28L1576.79 928.25L1580.16 926.21L1583.53 924.16L1586.89 922.10L1590.26 920.03L1593.63 917.95L1596.99 915.86L1600.36 913.75L1603.73 911.64L1607.09 909.51L1610.46 907.38L1613.83 905.23L1617.19 903.08L1620.56 900.91L1623.93 898.74L1627.29 896.55L1630.66 894.36L1634.03 892.16L1637.39 889.95L1640.76 887.73L1644.13 885.51L1647.49 883.28L1650.86 881.04L1654.23 878.79L1657.60 876.54L1660.96 874.28L1664.33 872.01L1667.70 869.74L1671.06 867.46L1674.43 865.18L1677.80 862.90L1681.16 860.60L1684.53 858.31L1687.90 856.01L1691.26 853.70L1694.63 851.40L1698.00 849.09L1701.36 846.77L1704.73 844.45L1708.10 842.14L1711.46 839.81L1714.83 837.49L1718.20 835.17L1721.56 832.84L1724.93 830.51L1728.30 828.19L1731.66 825.86L1735.03 823.53L1738.40 821.20L1741.76 818.87L1745.13 816.54L1748.50 814.22L1751.86 811.89L1755.23 809.56L1758.60 807.24L1761.96 804.92L1765.33 802.60L1768.70 800.29L1772.06 797.97L1775.43 795.66L1778.80 793.35L1782.16 791.05L1785.53 788.75L1788.90 786.45L1792.26 784.16L1795.63 781.88L1799.00 779.60L1802.36 777.32L1805.73 775.05L1809.10 772.78L1812.46 770.53L1815.83 768.27L1819.20 766.03L1822.57 763.79L1825.93 761.56L1829.30 759.33L1832.67 757.12L1836.03 754.91L1839.40 752.71L1842.77 750.51L1846.13 748.33L1849.50 746.16L1852.87 743.99L1856.23 741.84L1859.60 739.69L1862.97 737.56L1866.33 735.44L1869.70 733.32L1873.07 731.22L1876.43 729.13L1879.80 727.05L1883.17 724.98L1886.53 722.93L1889.90 720.88L1893.27 718.85L1896.63 716.84L1900.00 714.83" stroke="#ff8000" stroke-width="8.1"/>
</g>
<circle cx="971.95" cy="350.35" r="17.2" fill="url(#ball)"/>
<path d="M971.5 350.35V1193.40" stroke="#000" stroke-width="5.2" stroke-dasharray="17.44 17.44" fill="none"/>
<circle cx="971.95" cy="1193.40" r="17.2" fill="url(#ball)"/>
<rect x="242.5" y="37.5" width="520.95" height="169.30" fill="#fff" stroke="#000" stroke-width="3"/>
<path d="M263 86.95h100" stroke="#0000ff" stroke-width="8.1" fill="none"/>
<path d="M495 86.95h100" stroke="#bf8040" stroke-width="8.1" fill="none"/>
<path d="M263 159.95h100" stroke="#00aeef" stroke-width="8.1" fill="none"/>
<path d="M495 159.95h100" stroke="#ff8000" stroke-width="8.1" fill="none"/>
<g fill="#000">
<text><tspan style="font-family:'Liberation Serif',serif" font-size="58.50" x="155.92" y="54.50" textLength="59.96" lengthAdjust="spacingAndGlyphs">20</tspan></text>
<text><tspan style="font-family:'Liberation Serif',serif" font-size="58.50" x="155.92" y="311.81" textLength="59.96" lengthAdjust="spacingAndGlyphs">10</tspan></text>
<text><tspan style="font-family:'Liberation Serif',serif" font-size="58.50" x="185.90" y="569.12" textLength="29.98" lengthAdjust="spacingAndGlyphs">0</tspan></text>
<text><tspan style="font-family:'Liberation Serif',serif" font-size="58.50" x="112.43" y="828.86" textLength="43.87" lengthAdjust="spacingAndGlyphs">−</tspan><tspan style="font-family:'Liberation Serif',serif" font-size="58.50" x="155.92" y="824.03" textLength="59.96" lengthAdjust="spacingAndGlyphs">10</tspan></text>
<text><tspan style="font-family:'Liberation Serif',serif" font-size="58.50" x="112.43" y="1086.17" textLength="43.87" lengthAdjust="spacingAndGlyphs">−</tspan><tspan style="font-family:'Liberation Serif',serif" font-size="58.50" x="155.92" y="1081.34" textLength="59.96" lengthAdjust="spacingAndGlyphs">20</tspan></text>
<text><tspan style="font-family:'Liberation Serif',serif" font-size="58.50" x="1908.80" y="178.56" textLength="89.94" lengthAdjust="spacingAndGlyphs">300</tspan></text>
<text><tspan style="font-family:'Liberation Serif',serif" font-size="58.50" x="1908.80" y="385.33" textLength="89.94" lengthAdjust="spacingAndGlyphs">200</tspan></text>
<text><tspan style="font-family:'Liberation Serif',serif" font-size="58.50" x="1908.80" y="592.10" textLength="89.94" lengthAdjust="spacingAndGlyphs">100</tspan></text>
<text><tspan style="font-family:'Liberation Serif',serif" font-size="58.50" x="1908.80" y="798.86" textLength="29.98" lengthAdjust="spacingAndGlyphs">0</tspan></text>
<text><tspan style="font-family:'Liberation Serif',serif" font-size="58.50" x="1910.93" y="1008.05" textLength="43.87" lengthAdjust="spacingAndGlyphs">−</tspan><tspan style="font-family:'Liberation Serif',serif" font-size="58.50" x="1954.20" y="1003.23" textLength="89.94" lengthAdjust="spacingAndGlyphs">100</tspan></text>
<text><tspan style="font-family:'Liberation Serif',serif" font-size="58.50" x="1910.93" y="1214.82" textLength="43.87" lengthAdjust="spacingAndGlyphs">−</tspan><tspan style="font-family:'Liberation Serif',serif" font-size="58.50" x="1954.20" y="1210.00" textLength="89.94" lengthAdjust="spacingAndGlyphs">200</tspan></text>
<text><tspan style="font-family:'Liberation Serif',serif" font-size="58.50" x="193.28" y="1261.00" textLength="58.24" lengthAdjust="spacingAndGlyphs">10</tspan><tspan style="font-family:'Liberation Serif',serif" font-size="40.50" x="252.33" y="1239.90" textLength="22.45" lengthAdjust="spacingAndGlyphs">2</tspan></text>
<text><tspan style="font-family:'Liberation Serif',serif" font-size="58.50" x="744.65" y="1261.00" textLength="58.24" lengthAdjust="spacingAndGlyphs">10</tspan><tspan style="font-family:'Liberation Serif',serif" font-size="40.50" x="803.58" y="1239.90" textLength="21.79" lengthAdjust="spacingAndGlyphs">3</tspan></text>
<text><tspan style="font-family:'Liberation Serif',serif" font-size="58.50" x="1296.01" y="1261.00" textLength="58.24" lengthAdjust="spacingAndGlyphs">10</tspan><tspan style="font-family:'Liberation Serif',serif" font-size="40.50" x="1356.28" y="1239.90" textLength="19.36" lengthAdjust="spacingAndGlyphs">4</tspan></text>
<text><tspan style="font-family:'Liberation Serif',serif" font-size="58.50" x="1847.38" y="1261.00" textLength="58.24" lengthAdjust="spacingAndGlyphs">10</tspan><tspan style="font-family:'Liberation Serif',serif" font-size="40.50" x="1905.80" y="1239.90" textLength="22.34" lengthAdjust="spacingAndGlyphs">5</tspan></text>
<text><tspan style="font-family:'Liberation Serif',serif;font-style:italic" font-size="54.00" x="929.22" y="1264.20" textLength="37.95" lengthAdjust="spacingAndGlyphs">ω</tspan><tspan style="font-family:'Liberation Serif',serif;font-style:italic" font-size="38.50" x="966.57" y="1272.70" textLength="14.62" lengthAdjust="spacingAndGlyphs">i</tspan><tspan style="font-family:'Liberation Serif',serif;font-style:italic" font-size="38.50" x="986.98" y="1272.70" textLength="8.45" lengthAdjust="spacingAndGlyphs">,</tspan><tspan style="font-family:'Liberation Serif',serif;font-style:italic" font-size="38.50" x="997.52" y="1272.70" textLength="41.60" lengthAdjust="spacingAndGlyphs">m</tspan><tspan style="font-family:'Liberation Serif',serif;font-style:italic" font-size="38.50" x="1040.29" y="1272.70" textLength="21.96" lengthAdjust="spacingAndGlyphs">a</tspan><tspan style="font-family:'Liberation Serif',serif;font-style:italic" font-size="38.50" x="1065.85" y="1272.70" textLength="20.08" lengthAdjust="spacingAndGlyphs">x</tspan></text>
<text><tspan style="font-family:'Liberation Serif',serif;font-style:italic" font-size="54.00" x="938.52" y="1345.40" textLength="37.95" lengthAdjust="spacingAndGlyphs">ω</tspan><tspan> </tspan><tspan style="font-family:'Liberation Serif',serif" font-size="63.00" x="1000.06" y="1345.00" textLength="16.21" lengthAdjust="spacingAndGlyphs">(</tspan><tspan style="font-family:'Liberation Serif',serif;font-style:italic" font-size="57.00" x="1019.09" y="1345.40" textLength="24.13" lengthAdjust="spacingAndGlyphs">r</tspan><tspan style="font-family:'Liberation Serif',serif;font-style:italic" font-size="57.00" x="1047.98" y="1345.40" textLength="28.89" lengthAdjust="spacingAndGlyphs">a</tspan><tspan style="font-family:'Liberation Serif',serif;font-style:italic" font-size="57.00" x="1078.02" y="1345.40" textLength="27.74" lengthAdjust="spacingAndGlyphs">d</tspan><tspan style="font-family:'Liberation Serif',serif" font-size="86.00" x="1112.20" y="1357.60" textLength="21.50" lengthAdjust="spacingAndGlyphs">/</tspan><tspan style="font-family:'Liberation Serif',serif;font-style:italic" font-size="57.00" x="1140.22" y="1345.40" textLength="21.78" lengthAdjust="spacingAndGlyphs">s</tspan><tspan style="font-family:'Liberation Serif',serif" font-size="63.00" x="1166.91" y="1345.00" textLength="15.43" lengthAdjust="spacingAndGlyphs">)</tspan></text>
<text transform="translate(56.8 834) rotate(-90)"><tspan style="font-family:'Liberation Serif',serif" font-size="60.00" x="-2.13" y="0.00" textLength="21.50" lengthAdjust="spacingAndGlyphs">I</tspan><tspan style="font-family:'Liberation Serif',serif" font-size="60.00" x="19.97" y="0.00" textLength="45.54" lengthAdjust="spacingAndGlyphs">m</tspan><tspan style="font-family:'Liberation Serif',serif" font-size="60.00" x="69.19" y="0.00" textLength="31.25" lengthAdjust="spacingAndGlyphs">p</tspan><tspan style="font-family:'Liberation Serif',serif" font-size="60.00" x="102.22" y="0.00" textLength="25.90" lengthAdjust="spacingAndGlyphs">e</tspan><tspan style="font-family:'Liberation Serif',serif" font-size="60.00" x="127.77" y="0.00" textLength="30.89" lengthAdjust="spacingAndGlyphs">d</tspan><tspan style="font-family:'Liberation Serif',serif" font-size="60.00" x="161.24" y="0.00" textLength="27.30" lengthAdjust="spacingAndGlyphs">a</tspan><tspan style="font-family:'Liberation Serif',serif" font-size="60.00" x="189.89" y="0.00" textLength="30.63" lengthAdjust="spacingAndGlyphs">n</tspan><tspan style="font-family:'Liberation Serif',serif" font-size="60.00" x="221.34" y="0.00" textLength="25.21" lengthAdjust="spacingAndGlyphs">c</tspan><tspan style="font-family:'Liberation Serif',serif" font-size="60.00" x="247.34" y="0.00" textLength="25.66" lengthAdjust="spacingAndGlyphs">e</tspan><tspan> </tspan><tspan style="font-family:'Liberation Serif',serif" font-size="70.00" x="296.60" y="6.20" textLength="11.67" lengthAdjust="spacingAndGlyphs">[</tspan><tspan style="font-family:'Liberation Serif',serif" font-size="60.00" x="308.09" y="0.00" textLength="30.55" lengthAdjust="spacingAndGlyphs">d</tspan><tspan style="font-family:'Liberation Serif',serif" font-size="60.00" x="341.60" y="0.00" textLength="39.27" lengthAdjust="spacingAndGlyphs">B</tspan><tspan style="font-family:'Liberation Serif',serif" font-size="60.00" x="381.60" y="0.00" textLength="43.10" lengthAdjust="spacingAndGlyphs">Ω</tspan><tspan style="font-family:'Liberation Serif',serif" font-size="70.00" x="423.97" y="6.20" textLength="11.37" lengthAdjust="spacingAndGlyphs">]</tspan></text>
<text transform="translate(2126.8 757.8) rotate(-90)"><tspan style="font-family:'Liberation Serif',serif" font-size="60.00" x="-0.66" y="0.00" textLength="37.89" lengthAdjust="spacingAndGlyphs">P</tspan><tspan style="font-family:'Liberation Serif',serif" font-size="60.00" x="41.03" y="0.00" textLength="29.24" lengthAdjust="spacingAndGlyphs">h</tspan><tspan style="font-family:'Liberation Serif',serif" font-size="60.00" x="72.63" y="0.00" textLength="27.42" lengthAdjust="spacingAndGlyphs">a</tspan><tspan style="font-family:'Liberation Serif',serif" font-size="60.00" x="100.27" y="0.00" textLength="22.08" lengthAdjust="spacingAndGlyphs">s</tspan><tspan style="font-family:'Liberation Serif',serif" font-size="60.00" x="123.38" y="0.00" textLength="25.18" lengthAdjust="spacingAndGlyphs">e</tspan><tspan> </tspan><tspan style="font-family:'Liberation Serif',serif" font-size="70.00" x="172.60" y="6.20" textLength="11.22" lengthAdjust="spacingAndGlyphs">[</tspan><tspan style="font-family:'Liberation Serif',serif" font-size="60.00" x="183.59" y="0.00" textLength="30.55" lengthAdjust="spacingAndGlyphs">d</tspan><tspan style="font-family:'Liberation Serif',serif" font-size="60.00" x="216.05" y="0.00" textLength="25.54" lengthAdjust="spacingAndGlyphs">e</tspan><tspan style="font-family:'Liberation Serif',serif" font-size="60.00" x="241.94" y="0.00" textLength="28.65" lengthAdjust="spacingAndGlyphs">g</tspan><tspan style="font-family:'Liberation Serif',serif" font-size="70.00" x="270.87" y="6.20" textLength="11.37" lengthAdjust="spacingAndGlyphs">]</tspan></text>
<text><tspan style="font-family:'Liberation Serif',serif" font-size="63.00" x="383.48" y="104.00" textLength="9.25" lengthAdjust="spacingAndGlyphs">|</tspan><tspan style="font-family:'Liberation Serif',serif;font-style:italic" font-size="60.30" x="398.86" y="104.00" textLength="38.37" lengthAdjust="spacingAndGlyphs">Z</tspan><tspan style="font-family:'Liberation Serif',serif;font-style:italic" font-size="36.60" x="437.80" y="112.10" textLength="20.21" lengthAdjust="spacingAndGlyphs">o</tspan><tspan style="font-family:'Liberation Serif',serif" font-size="63.00" x="465.38" y="104.00" textLength="9.25" lengthAdjust="spacingAndGlyphs">|</tspan></text>
<text><tspan style="font-family:'DejaVu Sans',sans-serif" font-size="53.60" x="380.65" y="176.00" textLength="33.03" lengthAdjust="spacingAndGlyphs" stroke="#fff" stroke-width="1.5">∠</tspan><tspan style="font-family:'Liberation Serif',serif;font-style:italic" font-size="60.30" x="417.55" y="175.80" textLength="38.67" lengthAdjust="spacingAndGlyphs">Z</tspan><tspan style="font-family:'Liberation Serif',serif;font-style:italic" font-size="36.60" x="455.67" y="183.20" textLength="20.66" lengthAdjust="spacingAndGlyphs">o</tspan></text>
<text><tspan style="font-family:'Liberation Serif',serif" font-size="63.00" x="615.48" y="104.00" textLength="9.25" lengthAdjust="spacingAndGlyphs">|</tspan><tspan style="font-family:'Liberation Serif',serif;font-style:italic" font-size="60.30" x="630.66" y="104.00" textLength="38.47" lengthAdjust="spacingAndGlyphs">Z</tspan><tspan style="font-family:'Liberation Serif',serif;font-style:italic" font-size="38.50" x="668.93" y="112.70" textLength="13.32" lengthAdjust="spacingAndGlyphs">i</tspan><tspan style="font-family:'Liberation Serif',serif;font-style:italic" font-size="38.50" x="684.67" y="112.70" textLength="28.50" lengthAdjust="spacingAndGlyphs">n</tspan><tspan style="font-family:'Liberation Serif',serif" font-size="63.00" x="719.38" y="104.00" textLength="9.25" lengthAdjust="spacingAndGlyphs">|</tspan></text>
<text><tspan style="font-family:'DejaVu Sans',sans-serif" font-size="53.60" x="612.92" y="176.00" textLength="32.26" lengthAdjust="spacingAndGlyphs" stroke="#fff" stroke-width="1.5">∠</tspan><tspan style="font-family:'Liberation Serif',serif;font-style:italic" font-size="60.30" x="649.56" y="175.80" textLength="38.37" lengthAdjust="spacingAndGlyphs">Z</tspan><tspan style="font-family:'Liberation Serif',serif;font-style:italic" font-size="38.50" x="686.43" y="183.40" textLength="13.32" lengthAdjust="spacingAndGlyphs">i</tspan><tspan style="font-family:'Liberation Serif',serif;font-style:italic" font-size="38.50" x="702.73" y="183.40" textLength="29.09" lengthAdjust="spacingAndGlyphs">n</tspan></text>
</g>
</svg>
</body></html>
